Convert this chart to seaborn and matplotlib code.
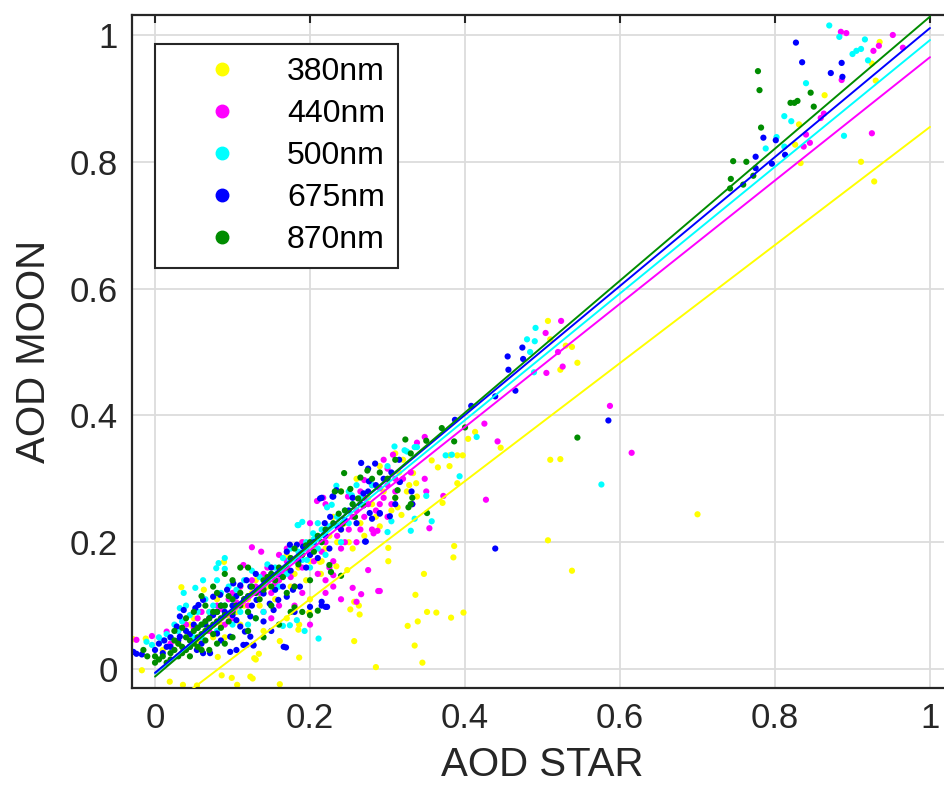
import numpy as np
import pandas as pd
import matplotlib
matplotlib.use('Agg')
import matplotlib.pyplot as plt
import seaborn as sns
from matplotlib.lines import Line2D

sns.set_style('whitegrid', {'grid.color': '#dcdcdc', 'axes.edgecolor': '#262626'})
plt.rcParams['font.family'] = ['Liberation Sans', 'DejaVu Sans']

bands = ['380nm', '440nm', '500nm', '675nm', '870nm']
colors = ['#ffff00', '#ff00ff', '#00ffff', '#0000ff', '#008c00']

# linear fit of each band (AOD MOON = slope * AOD STAR + intercept)
slopes = [0.931, 0.972, 0.999, 1.017, 1.041]
intercepts = [-0.076, -0.007, -0.007, -0.006, -0.012]

# (AOD STAR, AOD MOON) pairs
pts_380 = [(-0.028, 0.047), (-0.012, 0.048), (-0.017, -0.002), (0.019, -0.020), (0.036, -0.025),
           (0.054, -0.026), (0.034, 0.129), (0.089, 0.169), (0.063, 0.125), (0.081, 0.019),
           (0.086, -0.010), (0.099, -0.014), (0.106, -0.025), (0.123, -0.012), (0.130, 0.015),
           (0.126, -0.015), (0.128, 0.017), (0.134, 0.024), (0.161, 0.044), (0.161, -0.024),
           (0.185, 0.062), (0.186, 0.070), (0.186, 0.018), (0.199, 0.089), (0.213, 0.169),
           (0.214, 0.150), (0.234, 0.162), (0.248, 0.156), (0.252, 0.094), (0.257, 0.106),
           (0.257, 0.044), (0.263, 0.100), (0.264, 0.086), (0.285, 0.003),
           (0.020, 0.050), (0.040, 0.060), (0.050, 0.080), (0.070, 0.090), (0.080, 0.110),
           (0.100, 0.100), (0.110, 0.130), (0.120, 0.110), (0.130, 0.140), (0.140, 0.120),
           (0.150, 0.160), (0.160, 0.140), (0.170, 0.180), (0.180, 0.150), (0.190, 0.200),
           (0.200, 0.170), (0.220, 0.190), (0.230, 0.240), (0.240, 0.220), (0.250, 0.200),
           (0.260, 0.250), (0.270, 0.210), (0.280, 0.260), (0.290, 0.225), (0.300, 0.300),
           (0.310, 0.270), (0.320, 0.330), (0.060, 0.030), (0.090, 0.050), (0.110, 0.070),
           (0.140, 0.060), (0.170, 0.080), (0.200, 0.110),
           (0.301, 0.191), (0.301, 0.170), (0.313, 0.255), (0.318, 0.243), (0.328, 0.290),
           (0.333, 0.309), (0.337, 0.293), (0.338, 0.272), (0.357, 0.329), (0.365, 0.318),
           (0.371, 0.262), (0.380, 0.320), (0.380, 0.337), (0.390, 0.337), (0.397, 0.337),
           (0.390, 0.293), (0.404, 0.363), (0.413, 0.374), (0.446, 0.349), (0.386, 0.194),
           (0.385, 0.176), (0.347, 0.150), (0.336, 0.117), (0.351, 0.090), (0.363, 0.089),
           (0.339, 0.075), (0.326, 0.068), (0.382, 0.081), (0.398, 0.089), (0.335, 0.037),
           (0.345, 0.010), (0.510, 0.330), (0.523, 0.331), (0.507, 0.203), (0.538, 0.155),
           (0.700, 0.244), (0.507, 0.549), (0.538, 0.508), (0.545, 0.483), (0.523, 0.472),
           (0.530, 0.510), (0.510, 0.520), (0.935, 0.989), (0.925, 0.955), (0.930, 0.928),
           (0.864, 0.905), (0.831, 0.859), (0.826, 0.827), (0.833, 0.798), (0.911, 0.800),
           (0.928, 0.769)]
core_380 = [(0.010, 0.030), (0.030, 0.040), (0.045, 0.070), (0.055, 0.045), (0.065, 0.060),
            (0.075, 0.050), (0.085, 0.070), (0.095, 0.085), (0.105, 0.090), (0.115, 0.100),
            (0.125, 0.120), (0.135, 0.100), (0.145, 0.130), (0.155, 0.110), (0.165, 0.150),
            (0.175, 0.130), (0.185, 0.160), (0.195, 0.140), (0.205, 0.190), (0.215, 0.170),
            (0.225, 0.210), (0.235, 0.200), (0.245, 0.230), (0.255, 0.190), (0.265, 0.230),
            (0.275, 0.270), (0.285, 0.240), (0.295, 0.280), (0.305, 0.250), (0.315, 0.310),
            (0.325, 0.280), (0.240, 0.280), (0.260, 0.300), (0.290, 0.320), (0.310, 0.340)]

pts_440 = [(-0.024, 0.046), (-0.004, 0.052), (0.015, 0.059), (0.040, 0.070), (0.060, 0.090),
           (0.080, 0.100), (0.100, 0.120), (0.100, 0.080), (0.120, 0.100), (0.130, 0.130),
           (0.140, 0.150), (0.150, 0.120), (0.160, 0.140), (0.170, 0.170), (0.180, 0.130),
           (0.190, 0.160), (0.200, 0.180), (0.210, 0.150), (0.220, 0.200), (0.230, 0.170),
           (0.240, 0.190), (0.250, 0.220), (0.260, 0.200), (0.270, 0.240), (0.280, 0.220),
           (0.290, 0.260), (0.300, 0.240), (0.310, 0.280), (0.320, 0.300), (0.120, 0.060),
           (0.150, 0.080), (0.180, 0.100), (0.200, 0.070), (0.220, 0.120), (0.240, 0.110),
           (0.255, 0.128), (0.260, 0.106), (0.266, 0.118), (0.288, 0.123), (0.275, 0.156),
           (0.230, 0.148), (0.220, 0.140), (0.125, 0.192), (0.114, 0.164), (0.137, 0.185),
           (0.209, 0.265), (0.070, 0.060), (0.090, 0.070), (0.160, 0.180), (0.170, 0.190),
           (0.190, 0.200), (0.200, 0.230), (0.260, 0.250), (0.270, 0.270), (0.280, 0.290),
           (0.290, 0.285), (0.300, 0.290), (0.310, 0.300), (0.315, 0.295), (0.330, 0.310),
           (0.348, 0.366), (0.338, 0.357), (0.307, 0.338), (0.295, 0.330), (0.300, 0.316),
           (0.270, 0.298), (0.265, 0.280), (0.249, 0.272), (0.220, 0.260), (0.217, 0.270),
           (0.282, 0.214), (0.287, 0.218), (0.372, 0.273), (0.427, 0.267), (0.354, 0.222),
           (0.425, 0.387), (0.442, 0.359), (0.615, 0.341), (0.350, 0.280), (0.348, 0.300),
           (0.332, 0.260), (0.290, 0.123), (0.524, 0.549), (0.504, 0.530), (0.520, 0.500),
           (0.526, 0.477), (0.505, 0.467), (0.587, 0.415), (0.885, 1.005), (0.892, 1.003),
           (0.952, 1.000), (0.927, 0.975), (0.934, 0.983), (0.965, 0.980), (0.886, 0.929),
           (0.863, 0.876), (0.859, 0.869), (0.840, 0.843), (0.845, 0.830), (0.837, 0.824),
           (0.925, 0.845)]
core_440 = [(0.020, 0.040), (0.030, 0.060), (0.050, 0.065), (0.055, 0.080), (0.065, 0.075),
            (0.075, 0.090), (0.085, 0.095), (0.095, 0.110), (0.105, 0.105), (0.110, 0.130),
            (0.125, 0.140), (0.135, 0.120), (0.145, 0.160), (0.155, 0.135), (0.165, 0.155),
            (0.175, 0.145), (0.185, 0.175), (0.195, 0.190), (0.205, 0.170), (0.215, 0.185),
            (0.225, 0.160), (0.235, 0.210), (0.245, 0.200), (0.255, 0.240), (0.265, 0.220),
            (0.275, 0.260), (0.285, 0.250), (0.295, 0.270), (0.305, 0.260), (0.140, 0.090),
            (0.160, 0.100), (0.190, 0.120), (0.230, 0.130)]

pts_500 = [(-0.011, 0.043), (-0.004, 0.038), (0.010, 0.045), (0.020, 0.050), (0.030, 0.060),
           (0.032, 0.096), (0.037, 0.120), (0.040, 0.100), (0.052, 0.128), (0.062, 0.140),
           (0.080, 0.140), (0.079, 0.159), (0.082, 0.167), (0.090, 0.175), (0.090, 0.158),
           (0.050, 0.050), (0.060, 0.070), (0.070, 0.090), (0.080, 0.060), (0.090, 0.100),
           (0.100, 0.110), (0.110, 0.090), (0.120, 0.090), (0.130, 0.120), (0.130, 0.080),
           (0.140, 0.130), (0.150, 0.150), (0.150, 0.100), (0.160, 0.130), (0.170, 0.150),
           (0.174, 0.172), (0.183, 0.170), (0.190, 0.172), (0.184, 0.227), (0.185, 0.227),
           (0.200, 0.160), (0.204, 0.214), (0.210, 0.190), (0.220, 0.180), (0.228, 0.259),
           (0.240, 0.200), (0.250, 0.230), (0.254, 0.274), (0.174, 0.069), (0.165, 0.068),
           (0.183, 0.077), (0.193, 0.060), (0.211, 0.048), (0.196, 0.172), (0.190, 0.232),
           (0.210, 0.230), (0.222, 0.255), (0.234, 0.289), (0.250, 0.280), (0.260, 0.290),
           (0.280, 0.290), (0.300, 0.320), (0.325, 0.343), (0.338, 0.350), (0.309, 0.351),
           (0.322, 0.345), (0.335, 0.350), (0.375, 0.337), (0.383, 0.338), (0.393, 0.304),
           (0.415, 0.366), (0.350, 0.273), (0.335, 0.237), (0.357, 0.233), (0.305, 0.233),
           (0.330, 0.218), (0.300, 0.216), (0.576, 0.291), (0.491, 0.538), (0.480, 0.520),
           (0.490, 0.517), (0.484, 0.500), (0.489, 0.468), (0.870, 1.015), (0.883, 0.997),
           (0.900, 0.970), (0.905, 0.975), (0.911, 0.978), (0.916, 0.993), (0.920, 0.960),
           (0.840, 0.924), (0.812, 0.872), (0.821, 0.864), (0.802, 0.839), (0.788, 0.821),
           (0.812, 0.824), (0.889, 0.841)]
core_500 = [(0.005, 0.050), (0.015, 0.055), (0.025, 0.070), (0.035, 0.075), (0.045, 0.085),
            (0.055, 0.090), (0.065, 0.110), (0.075, 0.100), (0.085, 0.120), (0.095, 0.130),
            (0.105, 0.125), (0.115, 0.140), (0.125, 0.155), (0.135, 0.145), (0.145, 0.165),
            (0.155, 0.160), (0.165, 0.175), (0.175, 0.190), (0.185, 0.185), (0.195, 0.200),
            (0.205, 0.205), (0.215, 0.220), (0.225, 0.225), (0.235, 0.240), (0.245, 0.250),
            (0.255, 0.260), (0.265, 0.270), (0.060, 0.050), (0.100, 0.070), (0.140, 0.090),
            (0.120, 0.070), (0.100, 0.090)]

pts_675 = [(-0.028, 0.027), (-0.024, 0.024), (-0.017, 0.023), (0.000, 0.030), (0.005, 0.040),
           (0.012, 0.045), (0.015, 0.035), (0.020, 0.050), (0.028, 0.067), (0.032, 0.083),
           (0.037, 0.093), (0.052, 0.096), (0.056, 0.101), (0.062, 0.109), (0.075, 0.114),
           (0.084, 0.117), (0.093, 0.125), (0.101, 0.135), (0.110, 0.132), (0.118, 0.140),
           (0.123, 0.130), (0.131, 0.109), (0.140, 0.119), (0.148, 0.103), (0.153, 0.093),
           (0.159, 0.109), (0.170, 0.114), (0.178, 0.125), (0.187, 0.130), (0.200, 0.098),
           (0.215, 0.106), (0.222, 0.098), (0.191, 0.193), (0.183, 0.196), (0.174, 0.196),
           (0.170, 0.185), (0.226, 0.240), (0.219, 0.230), (0.213, 0.269), (0.230, 0.272),
           (0.234, 0.282), (0.269, 0.277), (0.277, 0.246), (0.290, 0.246), (0.271, 0.201),
           (0.105, 0.077), (0.123, 0.083), (0.110, 0.067), (0.116, 0.059), (0.123, 0.051),
           (0.097, 0.051), (0.080, 0.056), (0.071, 0.025), (0.062, 0.025), (0.054, 0.030),
           (0.097, 0.027), (0.105, 0.030), (0.114, 0.038), (0.118, 0.038), (0.127, 0.038),
           (0.166, 0.035), (0.037, 0.030), (0.045, 0.035), (0.032, 0.051), (0.040, 0.060),
           (0.050, 0.070), (0.070, 0.080), (0.080, 0.090), (0.100, 0.100), (0.130, 0.150),
           (0.150, 0.160), (0.160, 0.150), (0.200, 0.180), (0.220, 0.210), (0.240, 0.220),
           (0.250, 0.250), (0.260, 0.230), (0.215, 0.100), (0.220, 0.098), (0.169, 0.034),
           (0.127, 0.037), (0.266, 0.325), (0.275, 0.316), (0.284, 0.324), (0.276, 0.296),
           (0.303, 0.241), (0.316, 0.295), (0.331, 0.280), (0.332, 0.260), (0.310, 0.260),
           (0.290, 0.245), (0.280, 0.237), (0.272, 0.201), (0.229, 0.272), (0.215, 0.270),
           (0.387, 0.393), (0.408, 0.415), (0.439, 0.430), (0.455, 0.493), (0.456, 0.472),
           (0.474, 0.507), (0.475, 0.489), (0.465, 0.439), (0.439, 0.190), (0.585, 0.392),
           (0.827, 0.988), (0.835, 0.957), (0.886, 0.956), (0.872, 0.940), (0.887, 0.934),
           (0.785, 0.838), (0.801, 0.834), (0.775, 0.808), (0.775, 0.790), (0.796, 0.797),
           (0.813, 0.811)]
core_675 = [(0.010, 0.025), (0.020, 0.035), (0.030, 0.045), (0.045, 0.055), (0.055, 0.065),
            (0.065, 0.070), (0.075, 0.085), (0.085, 0.100), (0.090, 0.090), (0.100, 0.085),
            (0.105, 0.115), (0.115, 0.110), (0.125, 0.100), (0.135, 0.125), (0.145, 0.140),
            (0.155, 0.125), (0.165, 0.130), (0.175, 0.155), (0.185, 0.170), (0.195, 0.160),
            (0.205, 0.200), (0.210, 0.175), (0.225, 0.190), (0.235, 0.225), (0.245, 0.235),
            (0.255, 0.270), (0.265, 0.260), (0.275, 0.280), (0.285, 0.290), (0.295, 0.300),
            (0.305, 0.310), (0.315, 0.330), (0.060, 0.040), (0.085, 0.045), (0.140, 0.075),
            (0.150, 0.060), (0.180, 0.090)]

pts_870 = [(0.000, 0.020), (0.000, 0.010), (0.005, 0.015), (0.010, 0.020), (0.015, 0.010),
           (0.020, 0.025), (0.025, 0.030), (0.030, 0.020), (0.030, 0.040), (0.035, 0.035),
           (0.040, 0.030), (0.040, 0.050), (0.045, 0.045), (0.050, 0.040), (0.050, 0.060),
           (0.055, 0.050), (0.060, 0.055), (0.060, 0.070), (0.065, 0.060), (0.070, 0.065),
           (0.070, 0.080), (0.075, 0.070), (0.080, 0.075), (0.080, 0.090), (0.085, 0.080),
           (0.090, 0.085), (0.090, 0.100), (0.100, 0.090), (0.100, 0.110), (0.110, 0.100),
           (0.110, 0.120), (0.120, 0.115), (0.125, 0.130), (0.130, 0.120), (0.140, 0.140),
           (0.150, 0.130), (0.150, 0.150), (0.160, 0.160), (0.170, 0.160), (0.180, 0.190),
           (0.190, 0.180), (0.200, 0.200), (0.210, 0.210), (0.220, 0.220), (0.035, 0.065),
           (0.050, 0.090), (0.065, 0.100), (0.080, 0.120), (0.100, 0.140), (0.120, 0.160),
           (0.025, 0.060), (0.045, 0.020), (0.060, 0.030), (0.080, 0.040), (0.100, 0.050),
           (0.120, 0.060), (0.140, 0.050), (0.160, 0.070), (-0.010, 0.020), (-0.015, 0.030),
           (0.070, 0.030), (0.090, 0.040), (0.130, 0.080), (0.150, 0.100), (0.170, 0.120),
           (0.180, 0.130), (0.200, 0.140), (0.060, 0.115), (0.075, 0.130), (0.090, 0.150),
           (0.110, 0.160), (0.040, 0.080), (0.190, 0.090), (0.200, 0.085), (0.210, 0.092),
           (0.175, 0.090), (0.180, 0.097), (0.225, 0.164), (0.240, 0.147), (0.227, 0.153),
           (0.244, 0.309), (0.232, 0.280), (0.240, 0.280), (0.252, 0.284), (0.265, 0.302),
           (0.274, 0.313), (0.262, 0.269), (0.269, 0.258), (0.310, 0.270), (0.313, 0.282),
           (0.258, 0.240), (0.237, 0.245), (0.242, 0.229), (0.323, 0.362), (0.330, 0.260),
           (0.332, 0.270), (0.327, 0.255), (0.351, 0.246), (0.386, 0.359), (0.400, 0.381),
           (0.545, 0.365), (0.778, 0.943), (0.780, 0.913), (0.820, 0.893), (0.825, 0.893),
           (0.829, 0.896), (0.846, 0.909), (0.850, 0.887), (0.782, 0.854), (0.746, 0.801),
           (0.763, 0.800), (0.743, 0.773), (0.759, 0.764), (0.742, 0.758), (0.772, 0.778)]
core_870 = [(0.020, 0.015), (0.025, 0.045), (0.035, 0.025), (0.045, 0.035), (0.055, 0.035),
            (0.055, 0.065), (0.065, 0.045), (0.065, 0.075), (0.075, 0.055), (0.075, 0.090),
            (0.085, 0.065), (0.085, 0.100), (0.095, 0.075), (0.095, 0.115), (0.105, 0.100),
            (0.115, 0.110), (0.120, 0.090), (0.135, 0.110), (0.140, 0.125), (0.145, 0.145),
            (0.155, 0.140), (0.165, 0.145), (0.175, 0.175), (0.185, 0.165), (0.195, 0.195),
            (0.205, 0.185), (0.215, 0.200), (0.230, 0.230), (0.245, 0.250), (0.255, 0.260),
            (0.280, 0.300), (0.300, 0.300), (0.290, 0.310), (0.310, 0.330), (0.330, 0.340),
            (0.350, 0.360), (0.370, 0.380)]

all_pts = [pts_380 + core_380, pts_440 + core_440, pts_500 + core_500,
           pts_675 + core_675, pts_870 + core_870]
df = pd.concat([pd.DataFrame(p, columns=['star', 'moon']).assign(band=b)
                for p, b in zip(all_pts, bands)], ignore_index=True)

fig = plt.figure(figsize=(9.44, 7.99), dpi=100)
ax = fig.add_axes([0.1396, 0.1389, 0.8702, 0.8423])

sns.scatterplot(data=df, x='star', y='moon', hue='band', hue_order=bands,
                palette=dict(zip(bands, colors)), s=20, linewidth=0,
                legend=False, ax=ax, zorder=2)

xfit = np.array([0.0, 1.0])
for m, b, c in zip(slopes, intercepts, colors):
    ax.plot(xfit, m * xfit + b, color=c, lw=1.4, zorder=3)

ticks = [0, 0.2, 0.4, 0.6, 0.8, 1]
tick_labels = ['0', '0.2', '0.4', '0.6', '0.8', '1']
ax.set_xlim(-0.03, 1.03)
ax.set_ylim(-0.03, 1.0315)
ax.set_xticks(ticks)
ax.set_xticklabels(tick_labels)
ax.set_yticks(ticks)
ax.set_yticklabels(tick_labels)
ax.tick_params(direction='in', length=6, width=1.5, top=True, right=True,
               labelsize=25, colors='#262626', pad=10)
ax.grid(True, color='#dcdcdc', lw=1.3)
for sp in ax.spines.values():
    sp.set_linewidth(1.6)
    sp.set_color('#262626')

ax.set_xlabel('AOD STAR', fontsize=29, color='#262626', labelpad=8)
ax.set_ylabel('AOD MOON', fontsize=29, color='#262626', labelpad=12)

handles = [Line2D([], [], marker='o', ls='', color=c, markersize=9) for c in colors]
leg = ax.legend(handles, bands, loc='upper left', bbox_to_anchor=(0.0283, 0.957),
                fontsize=23, frameon=True, fancybox=False, framealpha=1,
                edgecolor='#262626', borderpad=0.4, handlelength=3.4,
                handletextpad=0.33, labelspacing=0.38, borderaxespad=0,
                labelcolor='black')
leg.get_frame().set_linewidth(1.5)

fig.savefig('out.png', dpi=100)
